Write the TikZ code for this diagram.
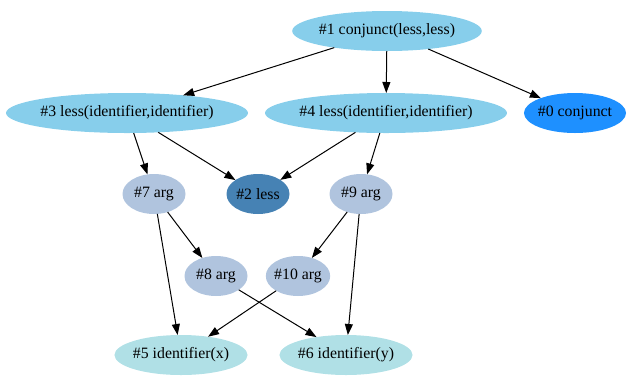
\documentclass[tikz,border=0pt]{standalone}
\usepackage{fontspec}
\setmainfont{Liberation Serif}
\usetikzlibrary{arrows.meta,shapes.geometric}
\definecolor{skyblue}{HTML}{87CEEB}
\definecolor{dodgerblue}{HTML}{1E90FF}
\definecolor{steelblue}{HTML}{4682B4}
\definecolor{lightsteelblue}{HTML}{B0C4DE}
\definecolor{powderblue}{HTML}{B0E0E6}
\begin{document}
\begin{tikzpicture}[x=1pt,y=-1pt,
  term/.style={ellipse,inner xsep=-1pt,inner ysep=0pt,outer sep=0pt,minimum width=63pt,minimum height=40pt,
    font=\fontsize{15.8}{18}\selectfont},
  link/.style={line width=1pt,-{Triangle[length=11pt,width=8pt]}}]
\useasboundingbox (0,0) rectangle (627,376);
%%% The nodes of the term graph
\node[term,fill=skyblue] (n1) at (387,31) {\#1 conjunct(less,less)};
\node[term,fill=skyblue] (n3) at (127,113) {\#3 less(identifier,identifier)};
\node[term,fill=skyblue] (n4) at (386,113) {\#4 less(identifier,identifier)};
\node[term,fill=dodgerblue] (n0) at (575,113) {\#0 conjunct};
\node[term,fill=lightsteelblue] (n7) at (154,194) {\#7 arg};
\node[term,fill=steelblue] (n2) at (258,194) {\#2 less};
\node[term,fill=lightsteelblue] (n9) at (361,194) {\#9 arg};
\node[term,fill=lightsteelblue] (n8) at (216,276) {\#8 arg};
\node[term,fill=lightsteelblue] (n10) at (298,276) {\#10 arg};
\node[term,fill=powderblue] (n5) at (181,355) {\#5 identifier(x)};
\node[term,fill=powderblue] (n6) at (346,355) {\#6 identifier(y)};
%%% The edges
\draw[link] (n1) -- (n3);
\draw[link] (n1) -- (n4);
\draw[link] (n1) -- (n0);
\draw[link] (n3) -- (n7);
\draw[link] (n3) -- (n2);
\draw[link] (n4) -- (n2);
\draw[link] (n4) -- (n9);
\draw[link] (n7) -- (n8);
\draw[link] (n7) -- (n5);
\draw[link] (n9) -- (n10);
\draw[link] (n9) -- (n6);
\draw[link] (n8) -- (n6);
\draw[link] (n10) -- (n5);
\end{tikzpicture}
\end{document}
